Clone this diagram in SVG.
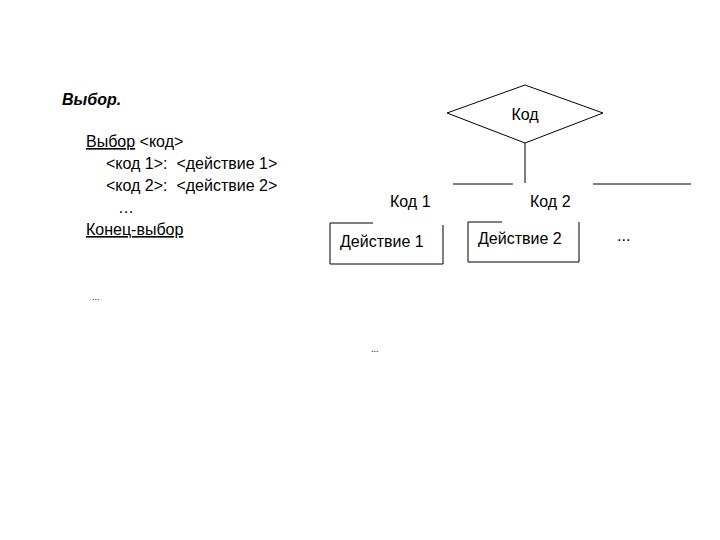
<svg xmlns="http://www.w3.org/2000/svg" width="720" height="540" viewBox="0 0 720 540">
<style>
text{font-family:"Liberation Sans",Arial,sans-serif;font-size:16px;fill:#000}
.s{font-size:9px}
line,polygon,path{stroke:#000;stroke-width:1;fill:none}
</style>
<rect width="720" height="540" fill="#fff"/>
<g id="code">
<text x="62" y="105" font-weight="bold" font-style="italic">Выбор.</text>
<text x="86" y="147"><tspan text-decoration="underline">Выбор</tspan>  &lt;код&gt;</text>
<text x="106" y="169" xml:space="preserve">&lt;код 1&gt;:  &lt;действие 1&gt;</text>
<text x="106" y="191" xml:space="preserve">&lt;код 2&gt;:  &lt;действие 2&gt;</text>
<text x="118" y="213">…</text>
<text x="86" y="235" text-decoration="underline">Конец-выбор</text>
<text class="s" x="92" y="300">...</text>
<text class="s" x="371" y="352">...</text>
</g>
<g id="decision"><polygon points="447,113 525,85 603,113 525,143"/><text x="525" y="120" text-anchor="middle">Код</text></g>
<g id="connectors">
<line x1="525" y1="143" x2="525" y2="183"/>
<line x1="453" y1="184" x2="513" y2="184"/>
<line x1="593" y1="184" x2="691" y2="184"/>
</g>
<g id="labels"><text x="390" y="207">Код 1</text><text x="530" y="207">Код 2</text><text x="617" y="241">...</text></g>
<g id="action1"><path d="M330,223 H373 M443,225 V264 H330 V223"/><text x="340" y="247">Действие 1</text></g>
<g id="action2"><path d="M468,222 H502 M579,222 V262 H468 V222"/><text x="478" y="244">Действие 2</text></g>
</svg>
